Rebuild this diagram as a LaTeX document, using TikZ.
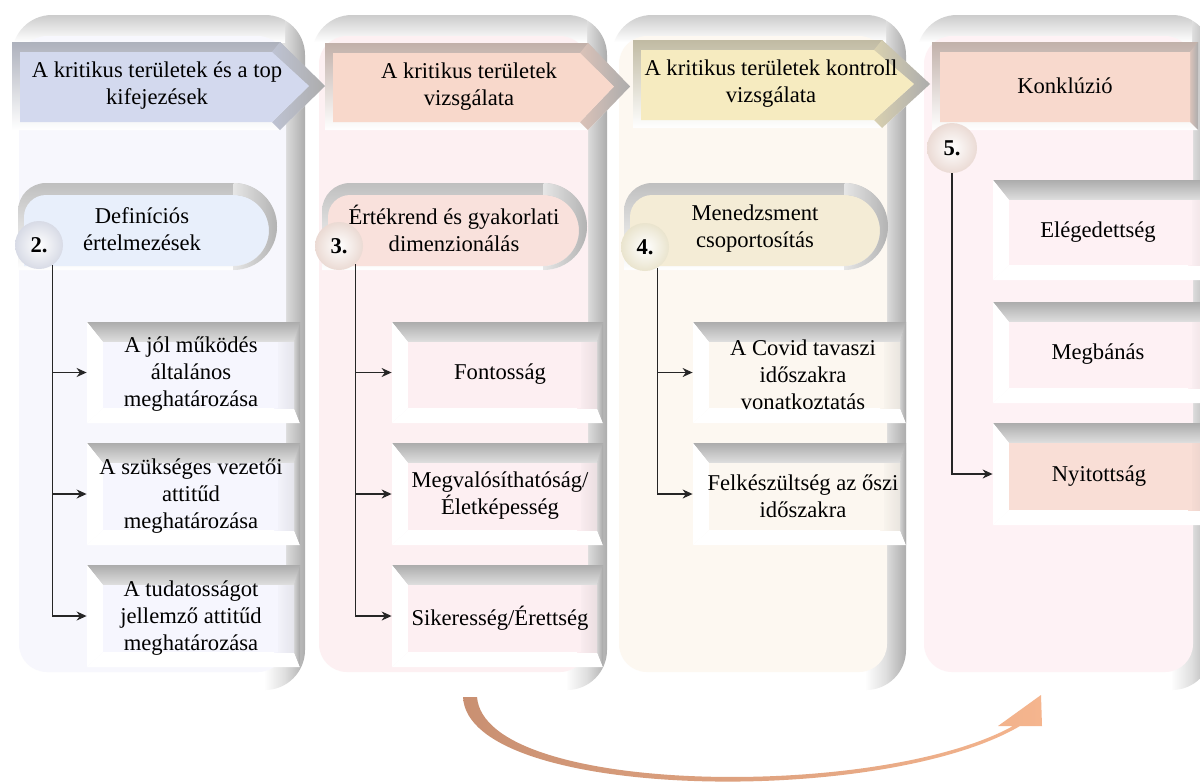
\documentclass[tikz,border=0pt]{standalone}
\usepackage{fontspec}
\setmainfont{Liberation Serif}
\usetikzlibrary{arrows.meta,fit}

\definecolor{tintA}{HTML}{F7F7FD}
\definecolor{tintB}{HTML}{FDF0F2}
\definecolor{tintC}{HTML}{FDF8F1}
\definecolor{tintD}{HTML}{FEF2F5}
\definecolor{hdrA}{HTML}{D3D9EE}
\definecolor{hdrB}{HTML}{F8D8CB}
\definecolor{hdrC}{HTML}{F6EBC0}
\definecolor{hdrD}{HTML}{F8D9CD}
\definecolor{pillA}{HTML}{E8EFFB}
\definecolor{pillB}{HTML}{F9E1DC}
\definecolor{pillC}{HTML}{F4ECD6}
\definecolor{faceA}{HTML}{F6F6FE}
\definecolor{faceB}{HTML}{FDEFF2}
\definecolor{faceC}{HTML}{FCF7F0}
\definecolor{faceD}{HTML}{FEF1F4}
\definecolor{faceE}{HTML}{F9DED6}
\definecolor{arrA}{HTML}{C99072}
\definecolor{arrM}{HTML}{E6A47F}
\definecolor{arrB}{HTML}{F5B58E}

\pgfdeclarehorizontalshading{rimshade}{100bp}{color(0bp)=(white); color(25bp)=(white); color(68bp)=(white); color(71.5bp)=(gray!25); color(75bp)=(gray!65); color(100bp)=(gray!65)}

\tikzset{
  txt/.style={align=center, inner sep=0pt, font=\fontsize{11.3}{13.5}\selectfont},
  numc/.style={circle, minimum size=24pt, inner sep=0pt, font=\fontsize{11.3}{13.5}\selectfont\bfseries},
  conn/.style={draw=black!85, line width=0.65pt, -{Stealth[length=5pt,width=4.5pt]}},
}

% panel: x0, x1, tint
\newcommand{\mypanel}[3]{%
  \shade[shading=rimshade, rounded corners=20pt] (#1,15) rectangle (#2,690);
  \begin{scope}
    \clip[rounded corners=20pt] (#1,15) rectangle (#2,690);
    \shade[top color=gray!40, bottom color=white] (#1,15) rectangle ({#2-20},42);
  \end{scope}
  \fill[#3, rounded corners=14pt] ({#1+7},36) rectangle ({#2-19},672);
}

% header arrow: name, x1, x2, xt, y1, y2, color, text, textx
\newcommand{\hdrarrow}[9]{%
  \pgfmathsetmacro\hym{(#5+#6)/2}%
  \pgfmathsetmacro\hin{ifthenelse(#4>#3,#4-16,#3-8)}%
  \shade[top color=#7!55!gray, bottom color=white] (#2,#5) -- (#3,#5) -- (#4,\hym) -- (#3,#6) -- (#2,#6) -- cycle;
  \shade[left color=#7!75!gray, right color=gray!65] (#3,#5) -- (#4,\hym) -- (#3,#6) -- ({#3-8},{#6-8}) -- (\hin,\hym) -- ({#3-8},{#5+10}) -- cycle;
  \fill[#7] ({#2+8},{#5+10}) -- ({#3-8},{#5+10}) -- (\hin,\hym) -- ({#3-8},{#6-8}) -- ({#2+8},{#6-8}) -- cycle;
  \node[txt] (#1) at (#9,\hym) {#8};
}

% pill: name, x1, x2, y1, y2, color, text, textx, texty
\newcommand{\pillshape}[9]{%
  \pgfmathsetmacro\pR{(#5-#4)/2}%
  \pgfmathsetmacro\pr{\pR-8}%
  \shade[top color=gray!50, bottom color=white] (#2,#5) -- (#2,{#4+28}) arc[start angle=180,end angle=270,radius=28] -- ({#3-\pR},#4) arc[start angle=270,end angle=450,radius=\pR] -- cycle;
  \fill[#6] ({#2+6},{#5-4}) -- ({#2+6},{#4+34}) arc[start angle=180,end angle=270,radius=22] -- ({#3-8-\pr},{#4+12}) arc[start angle=270,end angle=450,radius=\pr] -- cycle;
  \shade[left color=gray!20, right color=gray!60] ({#3-\pR},#4) arc[start angle=270,end angle=450,radius=\pR] -- ({#3-8-\pr},{#5-4}) arc[start angle=90,end angle=-90,radius=\pr] -- cycle;
  \node[txt] (#1) at (#8,#9) {#7};
}

% bevel box: name, x1, y1, x2, y2, face, text, textx
\newcommand{\bevbox}[8]{%
  \shade[top color=gray!65, bottom color=gray!25] (#2,#3) -- (#4,#3) -- ({#4-6},{#3+20}) -- ({#2+16},{#3+20}) -- cycle;
  \fill[white] (#2,#3) -- ({#2+16},{#3+20}) -- ({#2+16},{#5-15}) -- (#2,#5) -- cycle;
  \fill[white] (#2,#5) -- ({#2+16},{#5-15}) -- ({#4-6},{#5-15}) -- (#4,#5) -- cycle;
  \shade[left color=gray!35, right color=gray!70] ({#4-6},{#3+20}) -- (#4,#3) -- (#4,#5) -- ({#4-6},{#5-15}) -- cycle;
  \shade[left color=#6, right color=#6!85!gray] ({#4-26},{#3+20}) rectangle ({#4-6},{#5-15});
  \fill[#6] ({#2+16},{#3+20}) rectangle ({#4-22},{#5-15});
  \node[fit={(#2,#3) (#4,#5)}, inner sep=0pt] (#1) {};
  \node[txt] (#1t) at (#8,{(#3+#5)/2+2}) {#7};
}

\begin{document}
\begin{tikzpicture}[x=0.5pt,y=-0.5pt]
\useasboundingbox (0,0) rectangle (1200,783);
\fill[white] (0,0) rectangle (1200,783);

% panels
\mypanel{12}{305}{tintA}
\mypanel{312}{607}{tintB}
\mypanel{612}{906}{tintC}
\mypanel{917}{1212}{tintD}

% curved arrow
\shade[left color=arrA, middle color=arrM, right color=arrB]
  (463,697) .. controls (468,800) and (880,808) .. (1020,726) -- (1042,726) -- (1041,695) -- (998,726) -- (1013,726)
  .. controls (880,800) and (485,796) .. (477,697) -- cycle;

% headers
\hdrarrow{h4}{932}{1198}{1198}{42}{130}{hdrD}{Konklúzió}{1065}
\hdrarrow{h3}{633}{882}{930}{40}{128}{hdrC}{A kritikus területek kontroll\\vizsgálata}{771}
\hdrarrow{h2}{325}{588}{630}{43}{130}{hdrB}{A kritikus területek\\vizsgálata}{469}
\hdrarrow{h1}{12}{280}{325}{42}{130}{hdrA}{A kritikus területek és a top\\kifejezések}{157}

% pills
\pillshape{p1}{18}{277}{183}{270}{pillA}{Definíciós\\értelmezések}{142}{229}
\pillshape{p2}{322}{587}{183}{270}{pillB}{Értékrend és gyakorlati\\dimenzionálás}{454}{228}
\pillshape{p3}{624}{888}{183}{270}{pillC}{Menedzsment\\csoportosítás}{755}{229}

% boxes column 1
\bevbox{b11}{87}{322}{300}{423}{faceA}{A jól működés\\általános\\meghatározása}{191}
\bevbox{b12}{87}{443}{300}{545}{faceA}{A szükséges vezetői\\attitűd\\meghatározása}{191}
\bevbox{b13}{87}{565}{300}{667}{faceA}{A tudatosságot\\jellemző attitűd\\meghatározása}{191}
% column 2
\bevbox{b21}{392}{322}{603}{423}{faceB}{Fontosság}{500}
\bevbox{b22}{392}{443}{603}{545}{faceB}{Megvalósíthatóság/\\Életképesség}{500}
\bevbox{b23}{392}{565}{603}{667}{faceB}{Sikeresség/Érettség}{500}
% column 3
\bevbox{b31}{693}{322}{906}{423}{faceC}{A Covid tavaszi\\időszakra\\vonatkoztatás}{803}
\bevbox{b32}{693}{443}{906}{545}{faceC}{Felkészültség az őszi\\időszakra}{803}
% column 4
\bevbox{b41}{993}{180}{1214}{280}{faceD}{Elégedettség}{1098}
\bevbox{b42}{993}{302}{1214}{403}{faceD}{Megbánás}{1098}
\bevbox{b43}{993}{423}{1214}{525}{faceE}{Nyitottság}{1099}

% number circles
\node[numc, inner color=white, outer color=hdrA!80!gray!65!white] (n1) at (39,245) {2.};
\node[numc, inner color=white, outer color=hdrB!80!gray!65!white] (n2) at (339,246) {3.};
\node[numc, inner color=white, outer color=hdrC!80!gray!65!white] (n3) at (645,247) {4.};
\node[numc, minimum size=25pt, inner color=white, outer color=hdrD!80!gray!65!white] (n4) at (952,148) {5.};

% connectors
\draw[conn] (n1.-57) |- (b13.west);
\draw[conn] (n1.-57 |- b11.west) -- (b11.west);
\draw[conn] (n1.-57 |- b12.west) -- (b12.west);

\draw[conn] (n2.-48) |- (b23.west);
\draw[conn] (n2.-48 |- b21.west) -- (b21.west);
\draw[conn] (n2.-48 |- b22.west) -- (b22.west);

\draw[conn] (n3.-60) |- (b32.west);
\draw[conn] (n3.-60 |- b31.west) -- (b31.west);

\draw[conn] (n4.south) |- (b43.west);
\end{tikzpicture}
\end{document}
